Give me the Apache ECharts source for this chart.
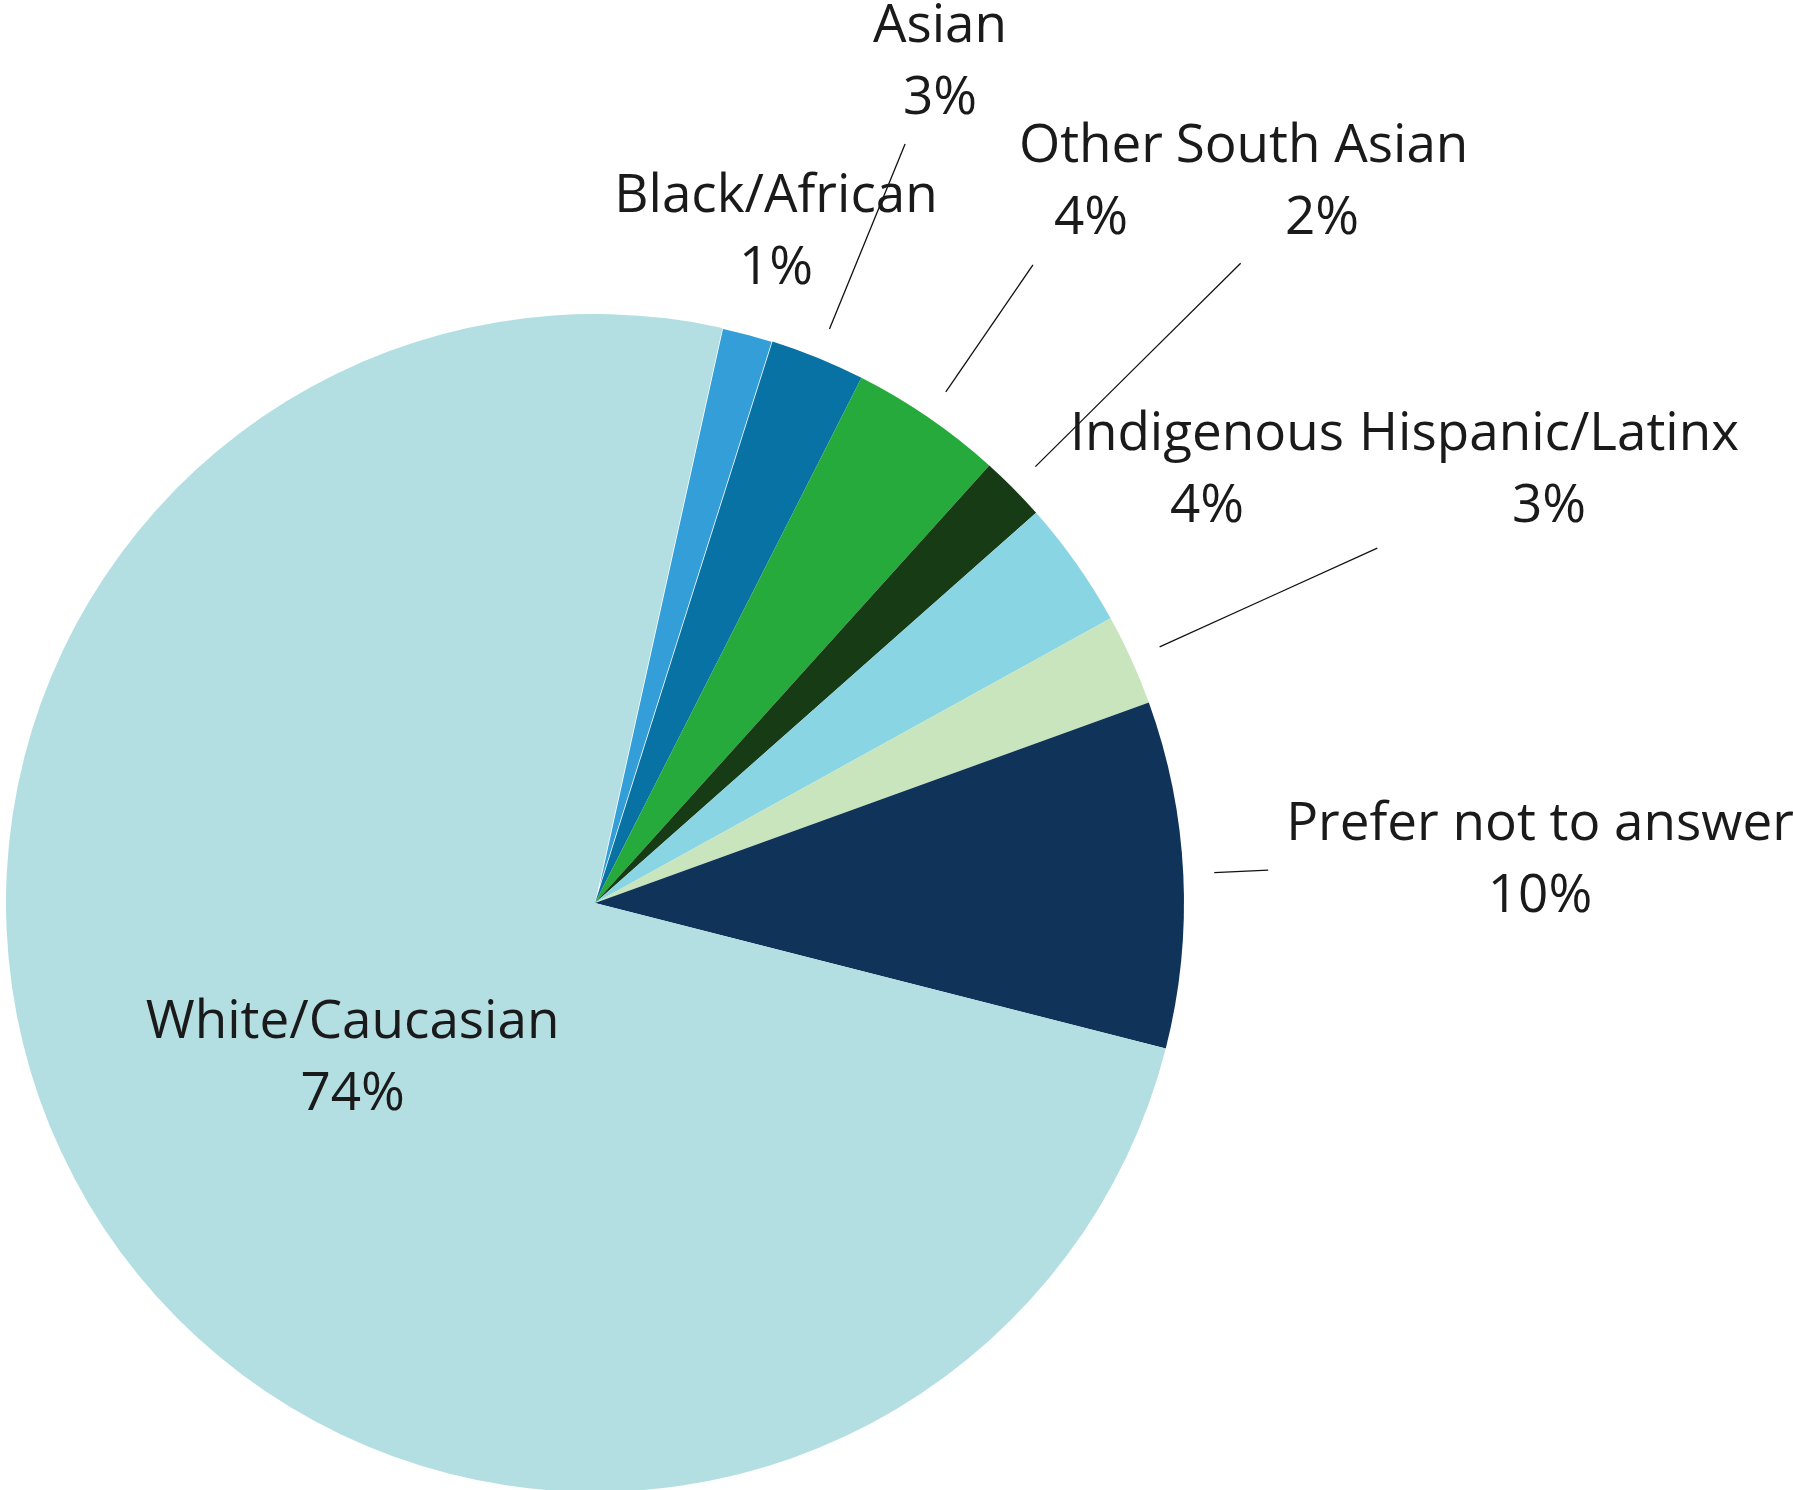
<!DOCTYPE html>
<html>
<head>
<meta charset="utf-8">
<script src="https://cdn.jsdelivr.net/npm/echarts@6/dist/echarts.min.js"></script>
<style>
html,body{margin:0;padding:0;background:#fff;}
#chart{width:1793px;height:1490px;}
</style>
</head>
<body>
<div id="chart"></div>
<script>
// Data (clockwise order starting just right of 12 o'clock)
const categories = ['Black/African','Asian','Other','South Asian','Indigenous','Hispanic/Latinx','Prefer not to answer','White/Caucasian'];
const shares = [1.4, 2.6, 4.2, 1.8, 3.5, 2.5, 9.5, 74.5];        // slice sizes as drawn
const percentLabels = [1, 3, 4, 2, 4, 3, 10, 74];               // percentages printed on the chart
const colors = ['#339ed8','#0872a4','#27aa3c','#163b15','#8ad5e4','#c8e5bd','#103459','#b3dfe3'];

// Layout (label anchor positions and leader line outer radius; null = no line)
const CENTER = [595, 903];
const RADIUS = 589;
const START_CLOCKWISE_FROM_TOP = 12.5;
const labelPos = [[776,233],[940,63],[1091,183],[1322,183],[1207,471],[1549,471],[1540,861],null];
const lineOuter = [null, 820, 774, 909, null, 859, 674, null];
const LINE_INNER = 620;

const total = shares.reduce((a,b)=>a+b,0);
function midAngle(i){
  let cum = 0;
  for (let k=0;k<i;k++) cum += shares[k];
  return START_CLOCKWISE_FROM_TOP + (cum + shares[i]/2)/total*360;
}
function polar(r, deg){
  const a = deg*Math.PI/180;
  return [CENTER[0] + r*Math.sin(a), CENTER[1] - r*Math.cos(a)];
}

const data = categories.map((name,i)=>{
  const item = {name, value: shares[i], itemStyle:{color: colors[i]}};
  if (i === 7) {
    item.label = {position:'inside'};
    item.labelLine = {show:false};
  }
  if (i === 0) {
    item.itemStyle.borderColor = '#ffffff';
    item.itemStyle.borderWidth = 1.5;
  }
  return item;
});

const chart = echarts.init(document.getElementById('chart'), null, {renderer:'canvas'});
chart.setOption({
  animation:false,
  backgroundColor:'#ffffff',
  series:[{
    type:'pie',
    center: CENTER,
    radius: RADIUS,
    startAngle: 90 - START_CLOCKWISE_FROM_TOP,
    clockwise:true,
    avoidLabelOverlap:false,
    data,
    label:{
      show:true,
      position:'outside',
      fontFamily:'"Open Sans", sans-serif',
      fontSize:53,
      lineHeight:72,
      color:'#1a1a1a',
      align:'center',
      formatter:(p)=> p.name + '\n' + percentLabels[p.dataIndex] + '%'
    },
    labelLine:{show:true, lineStyle:{color:'#111', width:1.3}},
    labelLayout:(params)=>{
      const i = params.dataIndex;
      if (!labelPos[i]) return {dx: 11};
      const res = {x: labelPos[i][0], y: labelPos[i][1], align:'center', verticalAlign:'middle'};
      const ang = midAngle(i);
      if (lineOuter[i]) {
        res.labelLinePoints = [polar(LINE_INNER, ang), polar((LINE_INNER+lineOuter[i])/2, ang), polar(lineOuter[i], ang)];
      } else {
        const p = polar(LINE_INNER, ang);
        res.labelLinePoints = [p, p, p];
      }
      return res;
    },
    emphasis:{disabled:true}
  }]
});
</script>
</body>
</html>
